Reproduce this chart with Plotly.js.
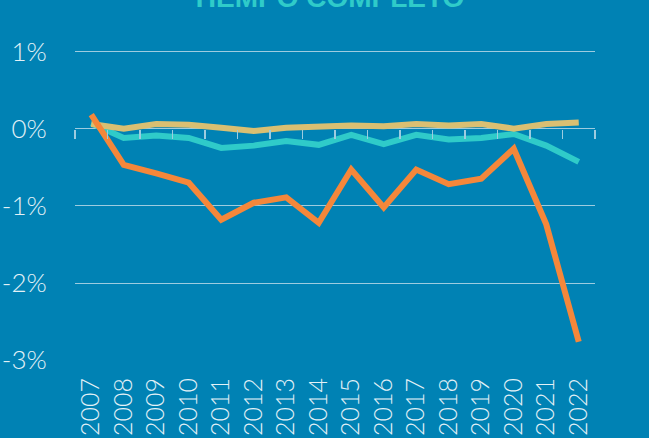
<!DOCTYPE html>
<html>
<head>
<meta charset="utf-8">
<script src="https://cdn.plot.ly/plotly-3.0.1.min.js"></script>
<style>html,body{margin:0;padding:0;background:#0082B4;}#chart{width:649px;height:438px;}</style>
</head>
<body>
<div id="chart"></div>
<script>
const years = ["2007","2008","2009","2010","2011","2012","2013","2014","2015","2016","2017","2018","2019","2020","2021","2022"];
const orangeSeries = [0.18,-0.47,-0.58,-0.70,-1.18,-0.96,-0.89,-1.22,-0.53,-1.02,-0.53,-0.72,-0.65,-0.26,-1.24,-2.76];
const tealSeries = [0.07,-0.12,-0.09,-0.12,-0.25,-0.22,-0.16,-0.21,-0.08,-0.20,-0.08,-0.14,-0.12,-0.07,-0.22,-0.43];
const goldSeries = [0.06,0.00,0.06,0.05,0.01,-0.03,0.01,0.03,0.04,0.03,0.06,0.04,0.06,0.00,0.06,0.08];
const yTickVals = [-3,-2,-1,0,1];
const yTickText = ["-3%","-2%","-1%","0%","1%"];
const titleText = "TIEMPO COMPLETO";

const yMin = -3.01, yMax = 1.2;
const lineW = 6;
function series(y, color){
  return {x: years, y: y, type: 'scatter', mode: 'lines', line: {color: color, width: lineW}, hoverinfo: 'skip', showlegend: false};
}
const traces = [
  series(tealSeries, '#2FCBC9'),
  series(goldSeries, '#D9BF72'),
  series(orangeSeries, '#F5873A'),
  {x: years, y: years.map(() => null), xaxis: 'x2', type: 'scatter', mode: 'lines', hoverinfo: 'skip', showlegend: false}
];
const gridCol = '#9DCCE0';
const layout = {
  width: 649, height: 438,
  paper_bgcolor: '#0082B4', plot_bgcolor: '#0082B4',
  margin: {l: 75, r: 54, t: 36, b: 77},
  title: {text: titleText, font: {family: 'Liberation Sans, Arial, sans-serif', size: 28, color: '#2FCBC9', weight: 700},
          x: 0.505, xanchor: 'center', yref: 'container', y: 0.983, yanchor: 'bottom'},
  xaxis: {type: 'category', categoryarray: years, range: [-0.5, 15.5], showgrid: false, zeroline: false, showline: false,
          ticks: 'outside', ticklen: 6, tickcolor: 'rgba(0,0,0,0)', tickangle: -90,
          tickfont: {family: 'Lato, sans-serif', size: 25, color: '#E3F1F7', weight: 300}},
  xaxis2: {type: 'category', categoryarray: years, range: [-0.5, 15.5], overlaying: 'x', anchor: 'free', position: (0 - yMin) / (yMax - yMin),
           side: 'bottom', showgrid: false, zeroline: false, showline: false, showticklabels: false,
           ticks: 'outside', tickson: 'boundaries', ticklen: 9, tickwidth: 1.2, tickcolor: gridCol},
  yaxis: {range: [yMin, yMax], tickvals: yTickVals, ticktext: yTickText, showgrid: true, gridcolor: gridCol, gridwidth: 1,
          zeroline: true, zerolinecolor: gridCol, zerolinewidth: 1.2, showline: false,
          ticks: 'outside', ticklen: 22, tickcolor: 'rgba(0,0,0,0)',
          tickfont: {family: 'Lato, sans-serif', size: 26, color: '#E3F1F7', weight: 300}}
};
Plotly.newPlot('chart', traces, layout, {displayModeBar: false, staticPlot: true});
</script>
</body>
</html>
